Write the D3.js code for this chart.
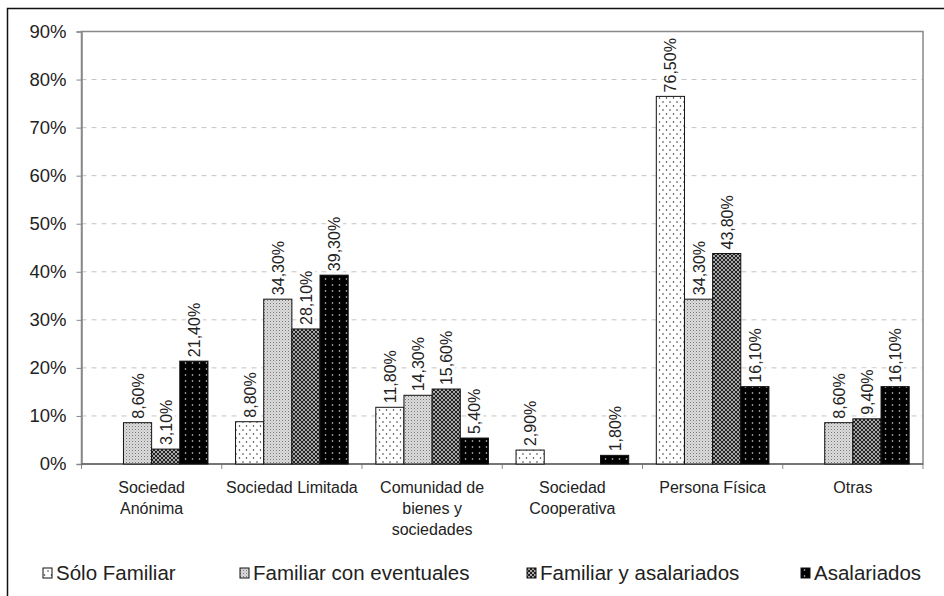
<!DOCTYPE html>
<html>
<head>
<meta charset="utf-8">
<script src="https://cdn.jsdelivr.net/npm/d3@7"></script>
<style>
  body { margin: 0; background: #fff; }
  svg { display: block; font-family: "Liberation Sans", Arial, sans-serif; }
</style>
</head>
<body>
<svg id="chart" width="944" height="596"></svg>
<script>
// data
const categories = ['Sociedad Anónima', 'Sociedad Limitada', 'Comunidad de bienes y sociedades',
                    'Sociedad Cooperativa', 'Persona Física', 'Otras'];
const categoryLines = [['Sociedad', 'Anónima'], ['Sociedad Limitada'], ['Comunidad de', 'bienes y', 'sociedades'],
                       ['Sociedad', 'Cooperativa'], ['Persona Física'], ['Otras']];
const series = ['Sólo Familiar', 'Familiar con eventuales', 'Familiar y asalariados', 'Asalariados'];
const soloFamiliar = [null, 8.8, 11.8, 2.9, 76.5, null];
const familiarEventuales = [8.6, 34.3, 14.3, null, 34.3, 8.6];
const familiarAsalariados = [3.1, 28.1, 15.6, null, 43.8, 9.4];
const asalariados = [21.4, 39.3, 5.4, 1.8, 16.1, 16.1];
const yTicks = [0, 10, 20, 30, 40, 50, 60, 70, 80, 90];

const values = [soloFamiliar, familiarEventuales, familiarAsalariados, asalariados];

const svg = d3.select('#chart');
const margin = {top: 31.5, left: 81.5, right: 21, bottom: 132};
const W = 944, H = 596;

// outer frame, runs off the right and bottom edges
svg.append('rect')
    .attr('x', 7.5).attr('y', 8.5)
    .attr('width', 960).attr('height', 620)
    .attr('fill', 'none').attr('stroke', '#111').attr('stroke-width', 1.5);

// patterns
const defs = svg.append('defs');
let p = defs.append('pattern').attr('id', 'pat0').attr('patternUnits', 'userSpaceOnUse')
    .attr('width', 7).attr('height', 8);
p.append('rect').attr('width', 7).attr('height', 8).attr('fill', '#fff');
p.append('circle').attr('cx', 1.5).attr('cy', 2).attr('r', 0.75).attr('fill', '#222');
p.append('circle').attr('cx', 5).attr('cy', 6).attr('r', 0.75).attr('fill', '#222');

p = defs.append('pattern').attr('id', 'pat1').attr('patternUnits', 'userSpaceOnUse')
    .attr('width', 3).attr('height', 3);
p.append('rect').attr('width', 3).attr('height', 3).attr('fill', '#dcdcdc');
p.append('rect').attr('width', 1).attr('height', 1).attr('fill', '#777');
p.append('rect').attr('x', 1.5).attr('y', 1.5).attr('width', 1).attr('height', 1).attr('fill', '#aaa');

p = defs.append('pattern').attr('id', 'pat2').attr('patternUnits', 'userSpaceOnUse')
    .attr('width', 4).attr('height', 4);
p.append('rect').attr('width', 4).attr('height', 4).attr('fill', '#a8a8a8');
p.append('path').attr('d', 'M0,0L4,4M4,0L0,4').attr('stroke', '#222').attr('stroke-width', 1);

p = defs.append('pattern').attr('id', 'pat3').attr('patternUnits', 'userSpaceOnUse')
    .attr('width', 7).attr('height', 6);
p.append('rect').attr('width', 7).attr('height', 6).attr('fill', '#000');
p.append('circle').attr('cx', 3.5).attr('cy', 3).attr('r', 0.8).attr('fill', '#ddd');

const fills = ['url(#pat0)', 'url(#pat1)', 'url(#pat2)', 'url(#pat3)'];

// scales
const x0 = d3.scaleBand()
    .domain(categories)
    .range([margin.left, W - margin.right])
    .padding(0);

const x1 = d3.scaleBand()
    .domain(series)
    .range([0, x0.bandwidth()])
    .paddingInner(0)
    .paddingOuter(0.49);

const y = d3.scaleLinear()
    .domain([0, 90])
    .range([H - margin.bottom, margin.top]);

const chart = svg.append('g');

// grid lines
chart.append('g').selectAll('line')
    .data(yTicks.filter(d => d > 0 && d < 90))
    .join('line')
    .attr('x1', margin.left).attr('x2', W - margin.right)
    .attr('y1', d => y(d)).attr('y2', d => y(d))
    .attr('stroke', '#c4c4c4').attr('stroke-dasharray', '5,5');

// plot frame
chart.append('rect')
    .attr('x', margin.left).attr('y', y(90))
    .attr('width', W - margin.right - margin.left)
    .attr('height', y(0) - y(90))
    .attr('fill', 'none').attr('stroke', '#888').attr('stroke-width', 1.5);

// y axis
const yaxis = d3.axisLeft(y)
    .tickValues(yTicks)
    .tickSize(5)
    .tickPadding(10)
    .tickFormat(d => d + '%');

const yg = chart.append('g')
    .attr('transform', `translate(${margin.left}, 0)`)
    .call(yaxis);
yg.select('.domain').attr('stroke', '#888').attr('stroke-width', 1.5);
yg.selectAll('.tick line').attr('stroke', '#888');
yg.selectAll('.tick text')
    .style('font-size', '18.5px')
    .attr('fill', '#222');

// x ticks at the group boundaries
const bounds = categories.map(c => x0(c)).concat([W - margin.right]);
chart.append('g').selectAll('line')
    .data(bounds)
    .join('line')
    .attr('x1', d => d).attr('x2', d => d)
    .attr('y1', y(0)).attr('y2', y(0) + 5)
    .attr('stroke', '#888');
chart.append('line')
    .attr('x1', margin.left).attr('x2', W - margin.right)
    .attr('y1', y(0)).attr('y2', y(0))
    .attr('stroke', '#666').attr('stroke-width', 1.5);

// category labels
const catg = chart.append('g').selectAll('text')
    .data(categories)
    .join('text')
    .attr('x', d => x0(d) + x0.bandwidth() / 2)
    .attr('y', 493)
    .attr('text-anchor', 'middle')
    .style('font-size', '16px')
    .attr('fill', '#222');
catg.each(function(d, i) {
    d3.select(this).selectAll('tspan')
        .data(categoryLines[i])
        .join('tspan')
        .attr('x', x0(d) + x0.bandwidth() / 2)
        .attr('dy', (t, j) => j === 0 ? 0 : 21)
        .text(t => t);
});

// bars
const bars = [];
categories.forEach((c, i) => {
    series.forEach((s, j) => {
        const v = values[j][i];
        if (v !== null) bars.push({cat: c, ser: s, k: j, value: v});
    });
});

const fmt = v => v.toFixed(2).replace('.', ',') + '%';

chart.append('g').selectAll('rect')
    .data(bars)
    .join('rect')
    .attr('x', d => x0(d.cat) + x1(d.ser))
    .attr('y', d => y(d.value))
    .attr('width', x1.bandwidth())
    .attr('height', d => y(0) - y(d.value))
    .attr('fill', d => fills[d.k])
    .attr('stroke', '#111').attr('stroke-width', 1);

// value labels, rotated
const lab = chart.append('g').selectAll('g')
    .data(bars)
    .join('g')
    .attr('transform', d => `translate(${x0(d.cat) + x1(d.ser) + x1.bandwidth() / 2 + 6}, ${y(d.value) - 4}) rotate(-90)`);
lab.append('text')
    .attr('x', 0).attr('y', 0)
    .style('font-size', '16px')
    .attr('fill', '#222')
    .text(d => fmt(d.value))
    .each(function() {
        const b = this.getBBox();
        d3.select(this.parentNode).insert('rect', 'text')
            .attr('x', b.x - 1).attr('y', b.y)
            .attr('width', b.width + 2).attr('height', b.height)
            .attr('fill', '#fff');
    });

// legend
const legendX = [43, 240, 527, 801];
const leg = svg.append('g').selectAll('g')
    .data(series)
    .join('g')
    .attr('transform', (d, i) => `translate(${legendX[i]}, 573)`);
leg.append('rect')
    .attr('x', 0).attr('y', -5)
    .attr('width', 9).attr('height', 10)
    .attr('fill', (d, i) => fills[i])
    .attr('stroke', '#111');
leg.append('text')
    .attr('x', 13).attr('y', 7)
    .style('font-size', '20.5px')
    .attr('fill', '#222')
    .text(d => d);
</script>
</body>
</html>
